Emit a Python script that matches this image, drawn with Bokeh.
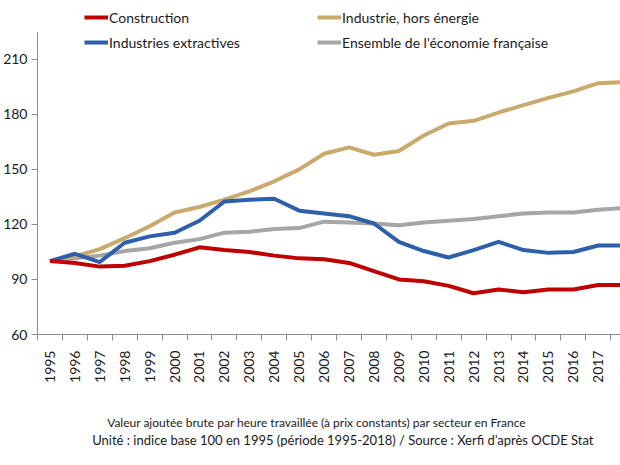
from bokeh.plotting import figure
from bokeh.models import Range1d, FixedTicker, Legend, LegendItem
from bokeh.layouts import column
from bokeh.core.properties import value
from bokeh.embed import file_html
from bokeh.resources import INLINE
import math

years = list(range(1995, 2019))
construction = [100, 99, 97, 97.5, 100, 103.5, 107.5, 106, 105, 103, 101.5, 101,
                99, 94.5, 90, 89, 86.5, 82.5, 84.5, 83, 84.5, 84.5, 87, 87]
industrie = [100, 102.5, 106.5, 112.5, 119, 126.5, 129.5, 133.5, 138, 143.5, 150, 158.5,
             162, 158, 160, 168.5, 175, 176.5, 181, 185, 189, 192.5, 197, 197.5]
extractives = [100, 104, 99.5, 110, 113.5, 115.5, 122, 132.5, 133.5, 134, 127.5, 126,
               124.5, 120.5, 110.5, 105.5, 102, 106, 110.5, 106, 104.5, 105, 108.5, 108.5]
ensemble = [100, 101.5, 103, 105.5, 107, 110, 112, 115.5, 116, 117.5, 118, 121.5,
            121, 120.5, 119.5, 121, 122, 123, 124.5, 126, 126.5, 126.5, 128, 129]
y_ticks = [60, 90, 120, 150, 180, 210]
caption = ["Valeur ajoutée brute par heure travaillée (à prix constants) par secteur en France",
           "Unité : indice base 100 en 1995 (période 1995-2018) / Source : Xerfi d’après OCDE Stat"]

FONT = "Lato"
AXIS_COL = "#8c8c8c"
TXT = "#1a1a1a"

p = figure(width=620, height=385, output_backend="svg", toolbar_location=None,
           min_border_left=34, min_border_right=0, min_border_top=0, min_border_bottom=50,
           x_range=Range1d(1994.5, 1994.5 + 586 / 25.05), y_range=Range1d(60, 60 + 335 / 1.84))
p.outline_line_color = None
p.xgrid.visible = False
p.ygrid.visible = False
p.background_fill_color = "white"
p.border_fill_color = "white"

series = [
    ("Construction", construction, "#C00000"),
    ("Industrie, hors énergie", industrie, "#C9AA6C"),
    ("Industries extractives", extractives, "#2E5FAA"),
    ("Ensemble de l'économie française", ensemble, "#A6A6A6"),
]
renderers = {}
for name, vals, col in [series[3], series[1], series[2], series[0]]:
    r = p.line(years, vals, line_color=col, line_width=4, line_join="round")
    renderers[name] = r

xa = p.xaxis[0]
xa.ticker = FixedTicker(ticks=years, minor_ticks=[y - 0.5 for y in years] + [years[-1] + 0.5])
xa.major_tick_out = 0
xa.major_tick_in = 0
xa.minor_tick_out = 6
xa.minor_tick_in = 0
xa.minor_tick_line_color = AXIS_COL
xa.axis_line_color = AXIS_COL
xa.major_label_orientation = math.pi / 2
xa.major_label_standoff = 10
xa.major_label_text_font = FONT
xa.major_label_text_font_size = "14px"
xa.major_label_text_color = TXT
xa.major_label_overrides = {y: str(y) for y in years}

ya = p.yaxis[0]
ya.ticker = FixedTicker(ticks=y_ticks, minor_ticks=[])
ya.bounds = (60, 224.7)
ya.major_tick_out = 6
ya.major_tick_in = 0
ya.major_tick_line_color = AXIS_COL
ya.axis_line_color = AXIS_COL
ya.major_label_standoff = 4
ya.major_label_text_font = FONT
ya.major_label_text_font_size = "14px"
ya.major_label_text_color = TXT

def make_legend(names, x, y):
    lg = Legend(items=[LegendItem(label=n, renderers=[renderers[n]]) for n in names],
                location=(x, y), orientation="vertical")
    lg.padding = 0
    lg.margin = 0
    lg.spacing = 5
    lg.border_line_color = None
    lg.background_fill_alpha = 0
    lg.glyph_width = 24
    lg.glyph_height = 20
    lg.label_height = 20
    lg.label_standoff = 1
    lg.label_text_font = FONT
    lg.label_text_font_size = "14px"
    lg.label_text_color = TXT
    return lg

p.add_layout(make_legend(["Construction", "Industries extractives"], 47, 282))
p.add_layout(make_legend(["Industrie, hors énergie", "Ensemble de l'économie française"], 280, 282))

# caption strip below the chart (its frame is aligned with the chart frame: 34..620 px)
cap = figure(width=620, height=80, output_backend="svg", toolbar_location=None,
             min_border=0, min_border_left=34, x_range=Range1d(34, 620), y_range=Range1d(80, 0))
cap.axis.visible = False
cap.grid.visible = False
cap.outline_line_color = None
cap.background_fill_color = "white"
cap.border_fill_color = "white"
cap.text(x=[104], y=[37], text=[caption[0]], text_font=value(FONT), text_font_size="12px",
         text_color=TXT, text_align="left", text_baseline="middle")
cap.text(x=[89], y=[54], text=[caption[1]], text_font=value(FONT), text_font_size="13px",
         text_color=TXT, text_align="left", text_baseline="middle")

layout = column(p, cap, spacing=0)
open("out.html", "w").write(file_html(layout, INLINE))
